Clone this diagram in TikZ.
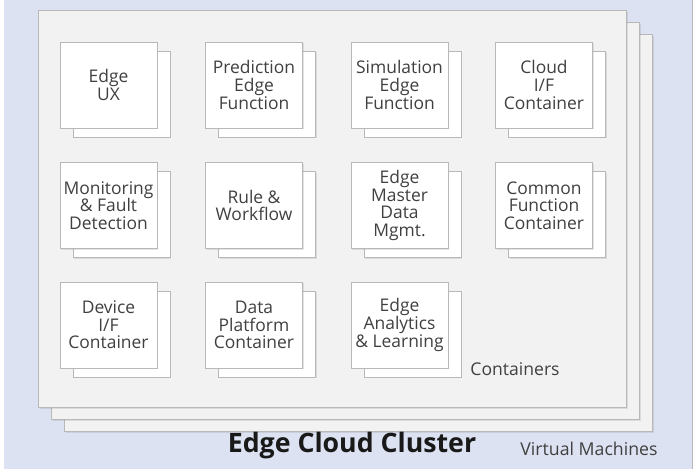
\documentclass[tikz,border=0pt]{standalone}
\usepackage{fontspec}
\setmainfont{Open Sans}
\usepackage{tikz}
\usetikzlibrary{shadows,positioning}
\definecolor{bgblue}{HTML}{DCE2F1}
\definecolor{panelgray}{HTML}{F2F2F2}
\definecolor{linegray}{HTML}{B8B8B8}
\definecolor{textgray}{HTML}{404040}

\begin{document}
\begin{tikzpicture}[
        x=0.025cm, y=-0.025cm,
        every node/.style={font=\fontsize{12.4}{12.5}\selectfont, text=textgray},
        vm/.style={rectangle, draw=linegray, fill=panelgray, minimum width=14.7cm, minimum height=9.925cm,
            drop shadow={shadow xshift=0.69cm, shadow yshift=-0.64cm, opacity=0.2},
            copy shadow={shadow xshift=0.65cm, shadow yshift=-0.6cm, fill=panelgray, draw=linegray},
            drop shadow={shadow xshift=0.365cm, shadow yshift=-0.34cm, opacity=0.2},
            copy shadow={shadow xshift=0.325cm, shadow yshift=-0.3cm, fill=panelgray, draw=linegray},
            drop shadow={shadow xshift=0.04cm, shadow yshift=-0.04cm, opacity=0.2}},
        box/.style={rectangle, draw=linegray, fill=white, minimum width=2.425cm, minimum height=2.15cm, inner sep=0pt, align=center,
            drop shadow={shadow xshift=0.36cm, shadow yshift=-0.26cm, opacity=0.2},
            copy shadow={shadow xshift=0.325cm, shadow yshift=-0.225cm, fill=white, draw=linegray},
            drop shadow={shadow xshift=0.035cm, shadow yshift=-0.035cm, opacity=0.2}},
        caption/.style={font=\fontsize{12.5}{14}\selectfont}
        ]
        \useasboundingbox (0,0) rectangle (696,469);
        \fill[bgblue] (4,0) rectangle (692,469);
        \draw[linegray] (692,0) -- (692,469);

        % virtual machines
        \node[vm] (cluster) at (332, 208.5) {};

        % containers
        \node[box] (ux) at (108.5, 85) {Edge\\UX};
        \node[box] (predict) at (254, 85) {Prediction\\Edge\\Function};
        \node[box] (simul) at (399.5, 85) {Simulation\\Edge\\Function};
        \node[box] (cloudif) at (544, 85) {Cloud\\I/F\\Container};
        \node[box] (monitor) at (108.5, 205.5) {Monitoring\\\& Fault\\Detection};
        \node[box] (rule) at (254, 205.5) {Rule \&\\Workflow};
        \node[box] (master) at (399.5, 205.5) {Edge\\Master\\Data\\Mgmt.};
        \node[box] (common) at (544, 205.5) {Common\\Function\\Container};
        \node[box] (deviceif) at (108.5, 325) {Device\\I/F\\Container};
        \node[box] (platform) at (254, 325) {Data\\Platform\\Container};
        \node[box] (analytics) at (399.5, 325) {Edge\\Analytics\\\& Learning};

        \node[caption] (containers) at (515, 369) {Containers};
        \node[font=\fontsize{19}{22}\bfseries, text=black!90] (title) at (352, 446) {Edge Cloud Cluster};
        \node[font=\fontsize{12.6}{14}\selectfont] (vms) at (589, 449) {Virtual Machines};
    \end{tikzpicture}
\end{document}
